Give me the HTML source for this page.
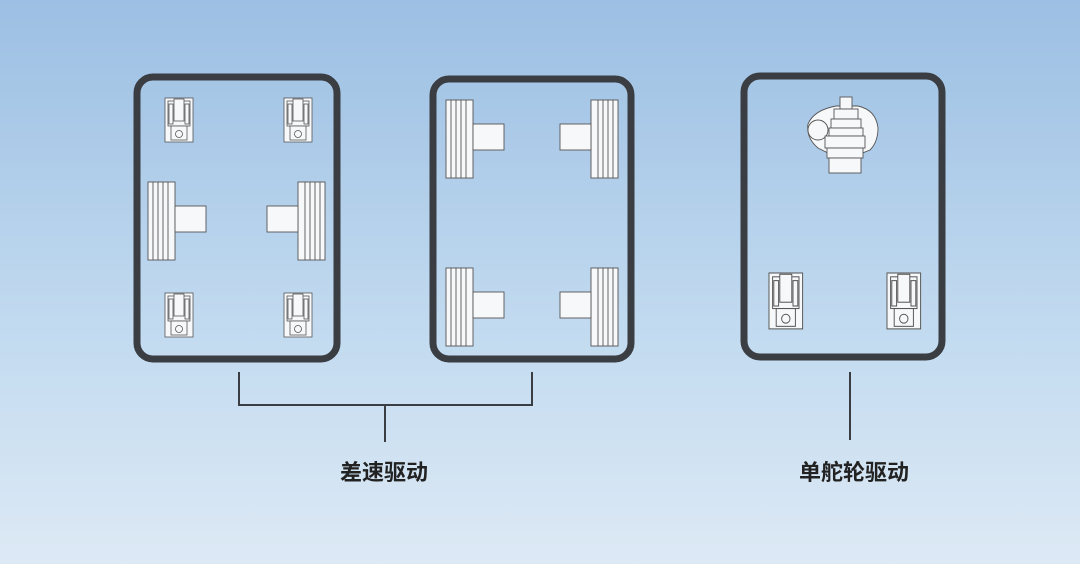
<!DOCTYPE html>
<html><head><meta charset="utf-8"><style>
html,body{margin:0;padding:0}
body{width:1080px;height:564px;overflow:hidden;background:linear-gradient(#9cbfe3,#c3dbf0 60%,#dde9f5);}
svg{display:block}
</style></head><body>
<svg width="1080" height="564" viewBox="0 0 1080 564" xmlns="http://www.w3.org/2000/svg">
<defs>
<g id="caster" fill="#f7f8fa" stroke="#555" stroke-width="0.8">
<rect x="0" y="0" width="28" height="44"/>
<rect x="3" y="3" width="22" height="25"/>
<rect x="9" y="1" width="10" height="22"/>
<rect x="4" y="6" width="4" height="20"/>
<rect x="20" y="6" width="4" height="20"/>
<rect x="6" y="28" width="16" height="14"/>
<circle cx="14" cy="36" r="3.5"/>
</g>
<g id="wheelL" fill="#f7f8fa" stroke="#555" stroke-width="0.9">
<rect x="0" y="0" width="27" height="78"/>
<line x1="5" y1="0" x2="5" y2="78"/><line x1="10" y1="0" x2="10" y2="78"/><line x1="15" y1="0" x2="15" y2="78"/><line x1="20" y1="0" x2="20" y2="78"/>
<rect x="27" y="24" width="31" height="26"/>
</g>
<g id="wheelR" fill="#f7f8fa" stroke="#555" stroke-width="0.9">
<rect x="31" y="0" width="27" height="78"/>
<line x1="38" y1="0" x2="38" y2="78"/><line x1="43" y1="0" x2="43" y2="78"/><line x1="48" y1="0" x2="48" y2="78"/><line x1="53" y1="0" x2="53" y2="78"/>
<rect x="0" y="24" width="31" height="26"/>
</g>
</defs>
<g fill="none" stroke="#3a3d42" stroke-width="7">
<rect x="137" y="77" width="200" height="282" rx="16"/>
<rect x="433" y="79" width="198" height="280" rx="16"/>
<rect x="744" y="76" width="198" height="281" rx="16"/>
</g>
<use href="#caster" x="165" y="98"/>
<use href="#caster" x="284" y="98"/>
<use href="#caster" x="165" y="293"/>
<use href="#caster" x="284" y="293"/>
<use href="#wheelL" x="148" y="182"/>
<use href="#wheelR" x="267" y="182"/>
<use href="#wheelL" x="446" y="100"/>
<use href="#wheelR" x="560" y="100"/>
<use href="#wheelL" x="446" y="268"/>
<use href="#wheelR" x="560" y="268"/>
<g transform="translate(769,273) scale(1.2,1.27)"><use href="#caster"/></g>
<g transform="translate(887,273) scale(1.2,1.27)"><use href="#caster"/></g>
<g fill="#f7f8fa" stroke="#555" stroke-width="0.9">
<path d="M818 148 Q806 138 808 124 Q814 110 836 106 L858 106 Q876 110 878 128 Q878 142 870 150 L860 154 L830 154 Z"/>
<circle cx="818" cy="130" r="10"/>
<rect x="840" y="97" width="12" height="12"/>
<rect x="834" y="109" width="24" height="10"/>
<rect x="831" y="119" width="30" height="9"/>
<rect x="829" y="128" width="34" height="8"/>
<rect x="825" y="136" width="40" height="12"/>
<rect x="827" y="148" width="36" height="10"/>
<rect x="829" y="158" width="32" height="15"/>
</g>
<g fill="none" stroke="#3a3d42" stroke-width="2">
<polyline points="239,372 239,405 532,405 532,372"/>
<line x1="385" y1="405" x2="385" y2="442"/>
<line x1="850" y1="372" x2="850" y2="440"/>
</g>
<g font-family="'Liberation Sans','Noto Sans CJK SC',sans-serif" font-size="22" font-weight="bold" fill="#222" text-anchor="middle">
<text x="384" y="480">差速驱动</text>
<text x="854" y="480">单舵轮驱动</text>
</g>
</svg>
</body></html>
